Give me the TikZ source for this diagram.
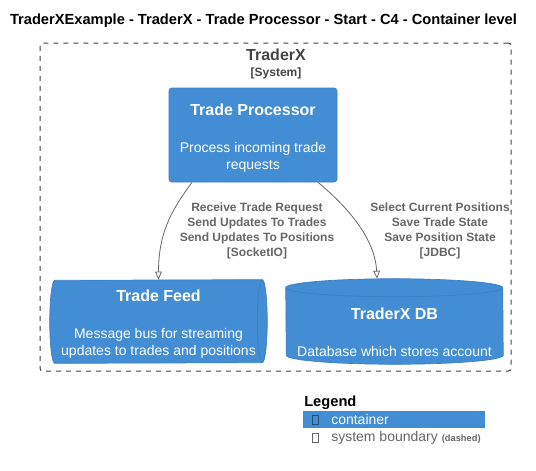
\documentclass[tikz,border=0pt]{standalone}
\usepackage{fontspec}
\setmainfont{Liberation Sans}
\usetikzlibrary{arrows.meta,calc,backgrounds}

\definecolor{c4blue}{HTML}{438DD5}
\definecolor{c4line}{HTML}{3C7FC0}
\definecolor{c4gray}{HTML}{666666}
\definecolor{c4dark}{HTML}{444444}

\newcommand{\ctitle}{\bfseries\fontsize{12}{14}\selectfont\rule{0pt}{13pt}}

\tikzset{
  ctext/.style={text=white, align=center, font=\fontsize{10.5}{12.75}\selectfont},
  container/.style={ctext, fill=c4blue, draw=c4line, rounded corners=2pt, minimum width=126pt, minimum height=70.5pt},
  cylbox/.style={minimum width=162.75pt},
  sysbound/.style={draw=c4dark, line width=0.75pt, dash pattern=on 3.75pt off 3.75pt, rounded corners=2pt},
  rel/.style={draw=c4gray, line width=0.6pt, -{Triangle[open, length=6pt, width=5pt]}},
  rellabel/.style={text=c4gray, align=center, font=\bfseries\fontsize{9}{11.25}\selectfont},
  tofu/.style={draw=#1, line width=0.5pt, inner sep=0pt, minimum width=4.5pt, minimum height=7pt}
}

\begin{document}
\begin{tikzpicture}[x=0.75pt,y=0.75pt]
\useasboundingbox (0,0) rectangle (536,-471);

% title
\node[font=\bfseries\fontsize{11}{13}\selectfont] (title) at (263.5,-20.5)
  {TraderXExample - TraderX - Trade Processor - Start - C4 - Container level};

% system boundary
\node[sysbound, minimum width=353.25pt, minimum height=246pt] (traderx) at (275.5,-207) {};
\node[text=c4dark, font=\bfseries\fontsize{12}{14}\selectfont] (sysname) at (276,-55) {TraderX};
\node[text=c4dark, font=\bfseries\fontsize{9}{11}\selectfont] (systype) at (276,-73) {[System]};

% containers
\node[container] (tp) at (253,-135)
  {{\ctitle Trade Processor}\\[15pt]Process incoming trade\\requests};
\node[ctext, cylbox, minimum height=62.25pt] (feed) at (158.5,-321.5)
  {{\ctitle Trade Feed}\\[15pt]Message bus for streaming\\updates to trades and positions};
\node[cylbox, minimum height=63.75pt] (db) at (394.5,-321.5) {};
\node[ctext] (dbtext) at (394.5,-329.5)
  {{\ctitle TraderX DB}\\[15pt]Database which stores account};

\begin{scope}[on background layer]
  % queue
  \path[fill=c4blue, draw=c4line, line width=0.5pt]
    ([xshift=-3.75pt]feed.north east) arc[start angle=90, end angle=-90, x radius=3.75pt, y radius=31.125pt]
    -- ([xshift=3.75pt]feed.south west) arc[start angle=270, end angle=90, x radius=3.75pt, y radius=31.125pt]
    -- cycle;
  \draw[c4line, line width=0.5pt] ([xshift=-3.75pt]feed.north east)
    arc[start angle=90, end angle=270, x radius=3.75pt, y radius=31.125pt];
  % database
  \path[fill=c4blue, draw=c4line, line width=0.5pt]
    ([yshift=-6.75pt]db.north west) arc[start angle=180, end angle=0, x radius=81.375pt, y radius=6.75pt]
    -- ([yshift=6.75pt]db.south east) arc[start angle=0, end angle=-180, x radius=81.375pt, y radius=6.75pt]
    -- cycle;
  \draw[c4line, line width=0.5pt] ([yshift=-6.75pt]db.north west)
    arc[start angle=180, end angle=360, x radius=81.375pt, y radius=6.75pt];
\end{scope}

% relations
\draw[rel] ($(tp.south)+(-61,0)$) .. controls +(-18,-25) and +(0,50) .. (feed.north);
\draw[rel] ($(tp.south)+(65,0)$) .. controls +(30,-25) and +(-2,40) .. ($(db.north)+(-17.5,0)$);
\node[rellabel] (feedlbl) at (257,-230.5)
  {Receive Trade Request\\Send Updates To Trades\\Send Updates To Positions\\{[SocketIO]}};
\node[rellabel] (dblbl) at (440,-230.5)
  {Select Current Positions\\Save Trade State\\Save Position State\\{[JDBC]}};

% legend
\node[anchor=base west, font=\bfseries\fontsize{11}{13}\selectfont, inner sep=0pt] (legend) at (304,-406) {Legend};
\node[fill=c4blue, inner sep=0pt, minimum width=136.5pt, minimum height=12.75pt] (legcont) at (394,-419.5) {};
\node[tofu=c4line!60!black] (legcbox) at (315,-419.5) {};
\node[anchor=west, inner sep=0pt, text=white, font=\fontsize{10.5}{12}\selectfont] (legctext) at (331,-419.5) {container};
\node[tofu=c4gray] (legbbox) at (315,-438) {};
\node[anchor=west, inner sep=0pt, text=c4gray, font=\fontsize{10.5}{12}\selectfont] (legbtext) at (331,-438)
  {system boundary {\bfseries\fontsize{7}{8}\selectfont (dashed)}};
\end{tikzpicture}
\end{document}
